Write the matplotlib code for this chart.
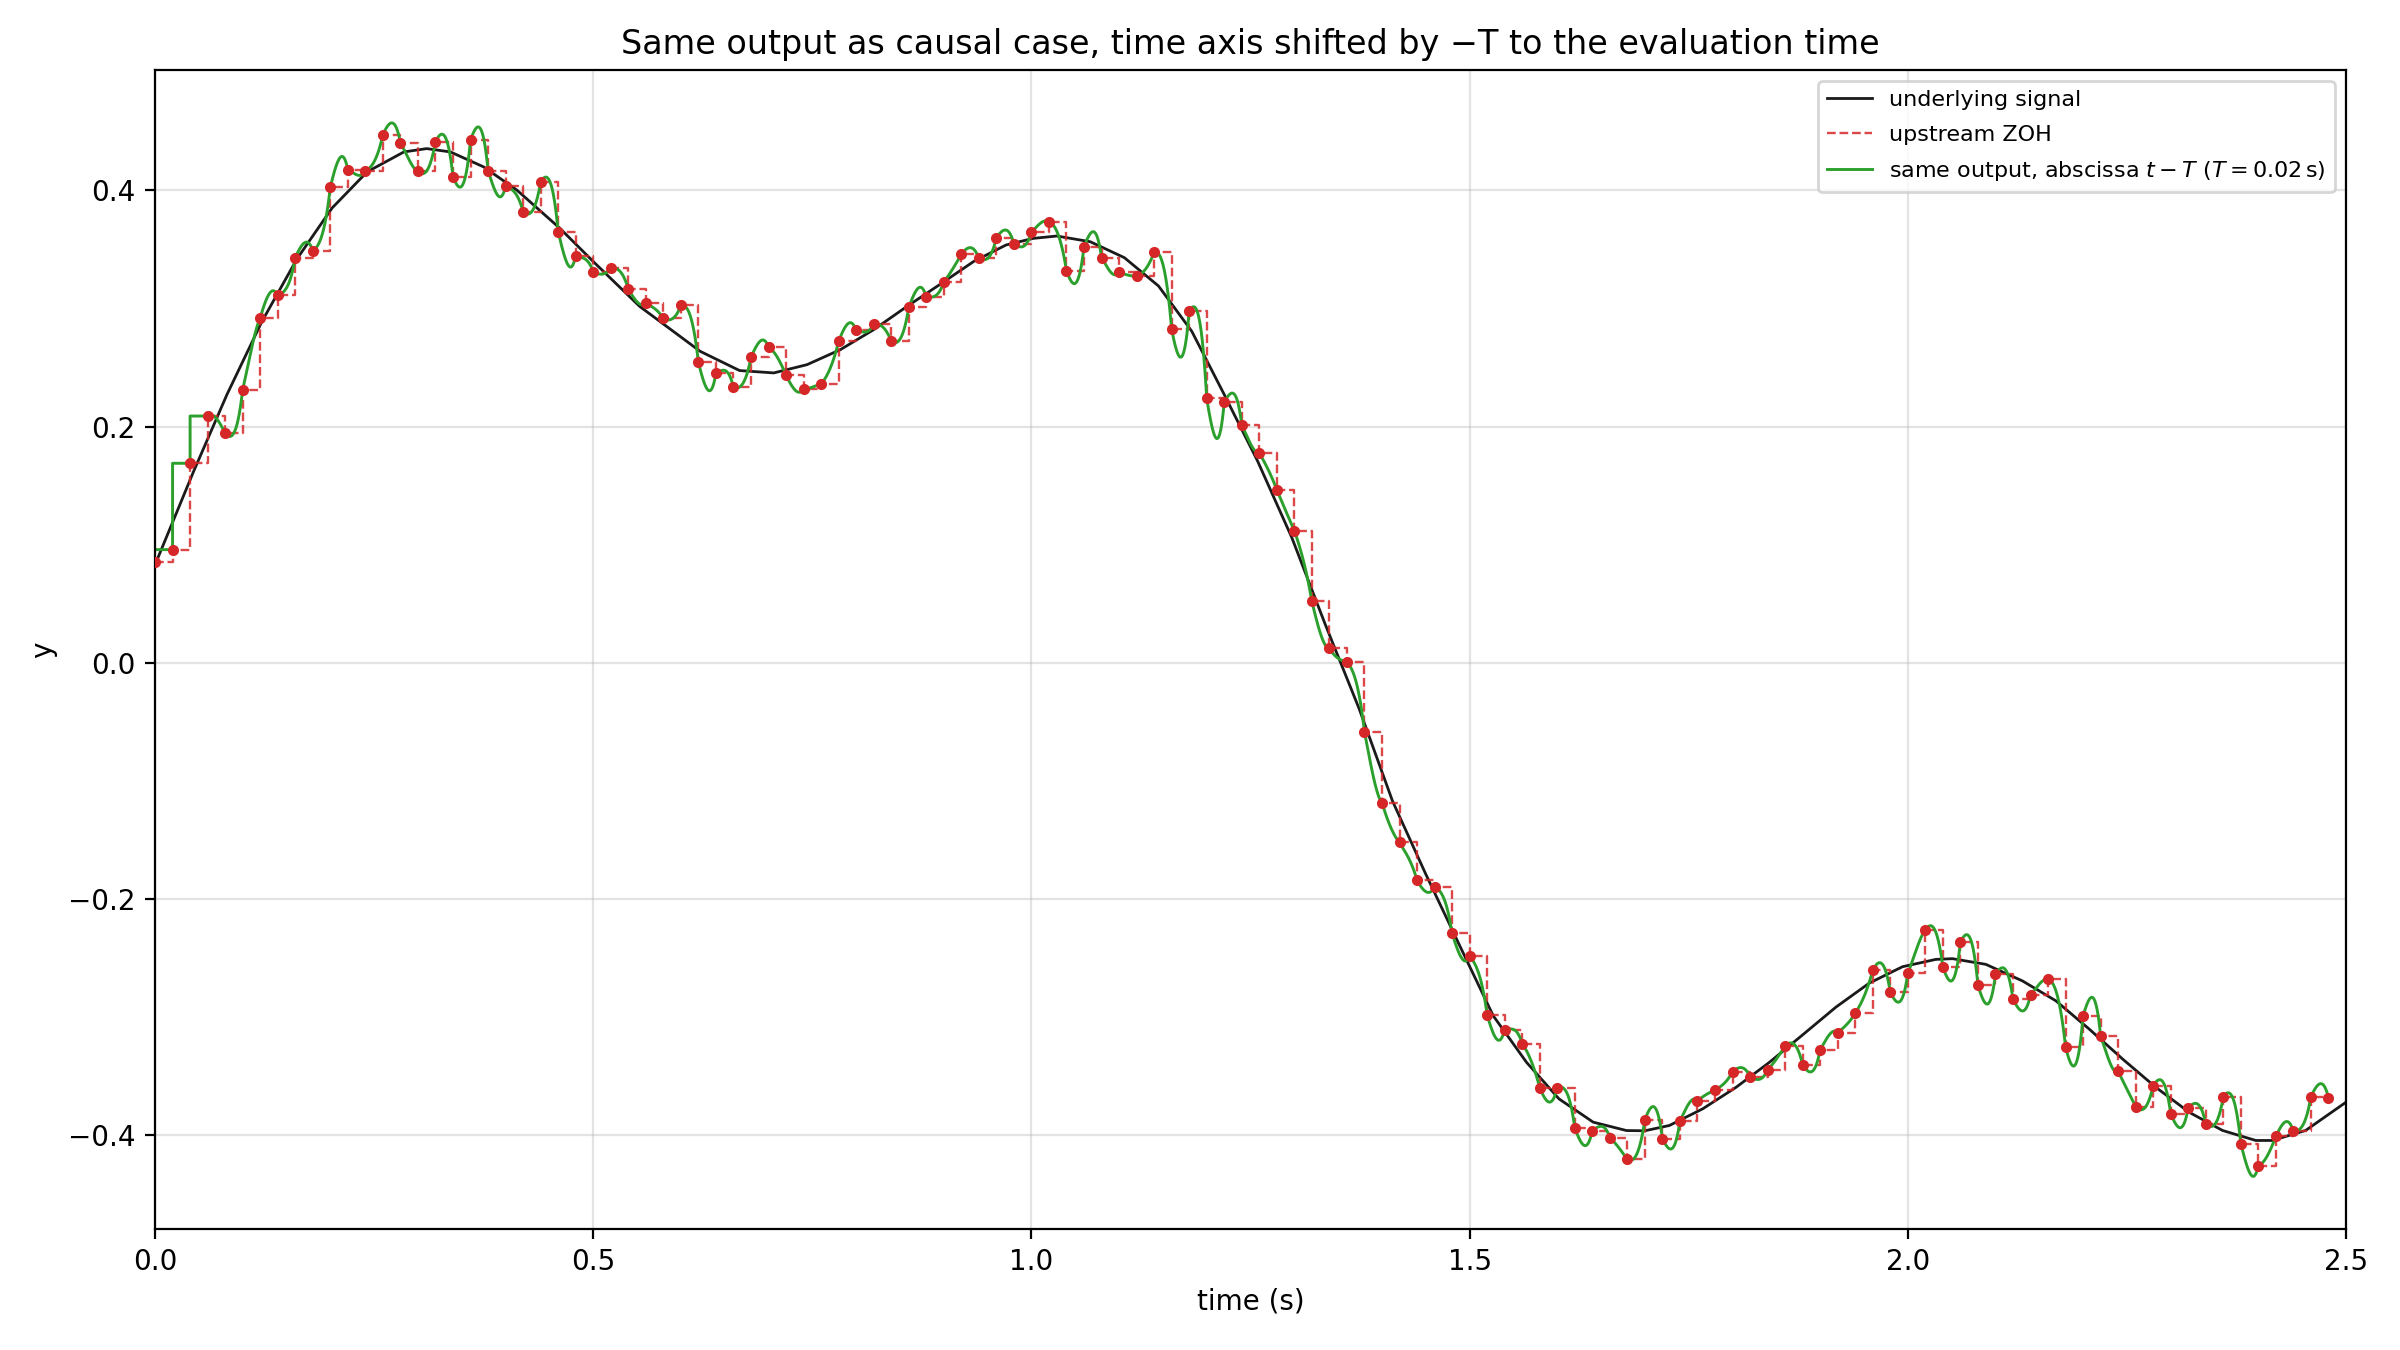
import numpy as np
import matplotlib
matplotlib.use('Agg')
import matplotlib.pyplot as plt

T = 0.02  # sample period (s)

# sampled values, one every T starting at t = 0
samples = [
    0.0851, 0.0958, 0.1689, 0.2089, 0.1942, 0.2313, 0.2918, 0.3110, 0.3430, 0.3490,
    0.4026, 0.4173, 0.4167, 0.4471, 0.4403, 0.4161, 0.4412, 0.4114, 0.4426, 0.4167,
    0.4035, 0.3818, 0.4071, 0.3650, 0.3447, 0.3312, 0.3340, 0.3163, 0.3045, 0.2915,
    0.3025, 0.2544, 0.2451, 0.2333, 0.2586, 0.2671, 0.2435, 0.2319, 0.2361, 0.2721,
    0.2814, 0.2868, 0.2721, 0.3008, 0.3095, 0.3225, 0.3458, 0.3425, 0.3599, 0.3548,
    0.3644, 0.3734, 0.3321, 0.3523, 0.3430, 0.3312, 0.3272, 0.3475, 0.2823, 0.2975,
    0.2240, 0.2209, 0.2013, 0.1776, 0.1464, 0.1118, 0.0521, 0.0122, 0.0007, -0.0584,
    -0.1183, -0.1521, -0.1841, -0.1900, -0.2291, -0.2483, -0.2980, -0.3107, -0.3225, -0.3597,
    -0.3597, -0.3937, -0.3960, -0.4021, -0.4205, -0.3868, -0.4030, -0.3878, -0.3709, -0.3616,
    -0.3462, -0.3504, -0.3445, -0.3245, -0.3405, -0.3276, -0.3133, -0.2966, -0.2603, -0.2789,
    -0.2629, -0.2263, -0.2576, -0.2365, -0.2730, -0.2637, -0.2848, -0.2812, -0.2679, -0.3251,
    -0.2989, -0.3160, -0.3459, -0.3757, -0.3580, -0.3819, -0.3765, -0.3903, -0.3673, -0.4072,
    -0.4257, -0.4010, -0.3968, -0.3673, -0.3681,
]
sample_t = np.round(np.arange(len(samples)) * T, 2)

# underlying continuous signal
sig_t = [0.000, 0.044, 0.082, 0.122, 0.162, 0.202, 0.242, 0.284, 0.310, 0.337,
         0.375, 0.413, 0.462, 0.500, 0.553, 0.622, 0.667, 0.706, 0.744, 0.782,
         0.820, 0.858, 0.896, 0.934, 0.971, 1.002, 1.029, 1.067, 1.106, 1.145,
         1.183, 1.220, 1.258, 1.297, 1.335, 1.374, 1.412, 1.450, 1.488, 1.527,
         1.565, 1.602, 1.641, 1.679, 1.700, 1.728, 1.766, 1.804, 1.842, 1.880,
         1.918, 1.956, 1.994, 2.032, 2.051, 2.089, 2.131, 2.169, 2.207, 2.245,
         2.283, 2.321, 2.359, 2.397, 2.416, 2.454, 2.500]
sig_v = [0.083, 0.162, 0.227, 0.289, 0.342, 0.385, 0.4156, 0.4325, 0.4353, 0.4325,
         0.4198, 0.4001, 0.3678, 0.3397, 0.3017, 0.2637, 0.2474, 0.2454, 0.2524, 0.2651,
         0.2820, 0.3017, 0.3205, 0.3397, 0.3537, 0.3593, 0.3613, 0.3565, 0.3430, 0.3190,
         0.2806, 0.2271, 0.1709, 0.1062, 0.0330, -0.0390, -0.1170, -0.1790, -0.2384, -0.2989,
         -0.3383, -0.3692, -0.3889, -0.3960, -0.3962, -0.3917, -0.3776, -0.3594, -0.3383, -0.3150,
         -0.2915, -0.2712, -0.2573, -0.2511, -0.2505, -0.2553, -0.2694, -0.2862, -0.3101, -0.3354,
         -0.3594, -0.3805, -0.3959, -0.4044, -0.4044, -0.3959, -0.3720]


def lagrange_output(y, period, n=40):
    # 5-point Lagrange on nodes k-3..k+1, drawn on [t_k, t_k+1]
    y = np.asarray(y)
    nodes = np.arange(-3, 2)
    u = np.linspace(0.0, 1.0, n)
    ts, vs = [], []
    for k in range(len(y) - 1):
        if k < 3:
            v = np.full_like(u, y[k + 1])
        else:
            v = np.zeros_like(u)
            for j in nodes:
                w = np.ones_like(u)
                for m in nodes:
                    if m != j:
                        w *= (u - m) / (j - m)
                v += w * y[k + j]
        ts.append((k + u) * period)
        vs.append(v)
    return np.concatenate(ts), np.concatenate(vs)


out_t, out_v = lagrange_output(samples, T)

fig, ax = plt.subplots(figsize=(12, 6.75), dpi=200)
fig.subplots_adjust(left=0.0646, right=0.9775, top=0.948, bottom=0.0896)

ax.plot(sig_t, sig_v, color='#1a1a1a', lw=1.0, label='underlying signal')
ax.step(sample_t, samples, where='post', color='#d62728', ls='--', lw=0.85,
        alpha=0.85, label='upstream ZOH')
ax.plot(out_t, out_v, color='#2ca02c', lw=1.05,
        label=r'same output, abscissa $t - T$ ($T = 0.02\,\mathrm{s}$)')
ax.plot(sample_t, samples, 'o', color='#d62728', ms=3, zorder=5)

ax.set_xlim(0, 2.5)
ax.grid(True, alpha=0.35)
ax.set_xlabel('time (s)')
ax.set_ylabel('y')
ax.set_title('Same output as causal case, time axis shifted by \u2212T to the evaluation time',
             fontsize=12)
ax.legend(loc='upper right', fontsize=8, labelspacing=0.65)

fig.savefig('out.png')
